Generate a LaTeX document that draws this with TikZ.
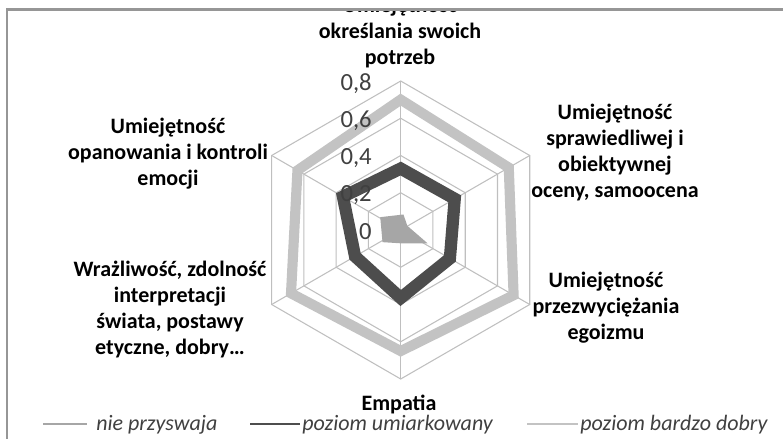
\documentclass[tikz,border=0pt]{standalone}
\usepackage{fontspec}
\setmainfont{Carlito}
\definecolor{gridgray}{HTML}{BFBFBF}
\definecolor{framegray}{HTML}{969696}
\definecolor{numgray}{HTML}{404040}
\definecolor{leggray}{HTML}{404040}
\definecolor{snone}{HTML}{A6A6A6}
\definecolor{smid}{HTML}{4D4D4D}
\definecolor{sgood}{HTML}{C3C3C3}
\begin{document}
\begin{tikzpicture}[x=0.75pt,y=-0.75pt,
  lbl/.style={font=\bfseries\fontsize{16.5}{19.5}\selectfont, align=center, text=black, inner sep=0pt},
  num/.style={font=\fontsize{18.5}{20}\selectfont, text=numgray, anchor=east, inner sep=0pt},
  leg/.style={font=\itshape\fontsize{16.5}{19}\selectfont, text=leggray, anchor=west, inner sep=0pt},
  gridline/.style={draw=gridgray, line width=0.8pt},
  sernone/.style={draw=snone, fill=snone, line width=6pt},
  sermid/.style={draw=smid, line width=9.2pt},
  sergood/.style={draw=sgood, line width=7.6pt},
  frameline/.style={draw=framegray, line width=1.8pt}]
\useasboundingbox (0,0) rectangle (783,439);
\def\U{186.25}
\coordinate (C) at (400.7,230);
% grid
\begin{scope}[shift={(C)}]
  \foreach \r in {1,2,3,4}{
    \draw[gridline] (-90:{37.25*\r}) -- (-30:{37.25*\r}) -- (30:{37.25*\r}) -- (90:{37.25*\r}) -- (150:{37.25*\r}) -- (210:{37.25*\r}) -- cycle;
  }
  \foreach \a in {-90,-30,30,90,150,210}{
    \draw[gridline] (0,0) -- (\a:149);
  }
  % series
  \draw[sernone] (-90:{0.06*\U}) -- (-30:{0.02*\U}) -- (30:{0.10*\U}) -- (90:{0.05*\U}) -- (150:{0.09*\U}) -- (210:{0.10*\U}) -- cycle;
  \draw[sermid] (-90:{0.33*\U}) -- (-30:{0.335*\U}) -- (30:{0.305*\U}) -- (90:{0.365*\U}) -- (150:{0.283*\U}) -- (210:{0.358*\U}) -- cycle;
  \draw[sergood] (-90:{0.70*\U}) -- (-30:{0.67*\U}) -- (30:{0.70*\U}) -- (90:{0.65*\U}) -- (150:{0.68*\U}) -- (210:{0.64*\U}) -- cycle;
\end{scope}
% axis numbers
\node[num] (n0) at (372,232) {0};
\node[num] (n2) at (372,195) {0,2};
\node[num] (n4) at (372,158) {0,4};
\node[num] (n6) at (372,121) {0,6};
\node[num] (n8) at (372,84) {0,8};
% category labels
\node[lbl] (ltop) at (400,33) {Umiejętność\\określania swoich\\potrzeb};
\node[lbl] (lur) at (615,152.5) {Umiejętność\\sprawiedliwej i\\obiektywnej\\oceny, samoocena};
\node[lbl] (llr) at (606,308) {Umiejętność\\przezwyciężania\\egoizmu};
\node[lbl] (lbot) at (399,404) {Empatia};
\node[lbl] (lll) at (170,309) {Wrażliwość, zdolność\\interpretacji\\świata, postawy\\etyczne, dobry…};
\node[lbl] (lul) at (168,154) {Umiejętność\\opanowania i kontroli\\emocji};
% clip top
\fill[white] (0,0) rectangle (783,9.5);
% frame
\draw[frameline] (7,439) -- (7,9.5) -- (783,9.5);
% legend
\coordinate (a1) at (43,424); \coordinate (b1) at (87,424);
\coordinate (a2) at (250,424); \coordinate (b2) at (300,424);
\coordinate (a3) at (527,424); \coordinate (b3) at (578,424);
\draw[draw=snone, line width=1.6pt] (a1) -- (b1);
\draw[draw=smid, line width=1.6pt] (a2) -- (b2);
\draw[draw=sgood, line width=1.6pt] (a3) -- (b3);
\node[leg] (t1) at (96,425) {nie przyswaja};
\node[leg] (t2) at (302,425) {poziom umiarkowany};
\node[leg] (t3) at (580,425) {poziom bardzo dobry};
\end{tikzpicture}
\end{document}
